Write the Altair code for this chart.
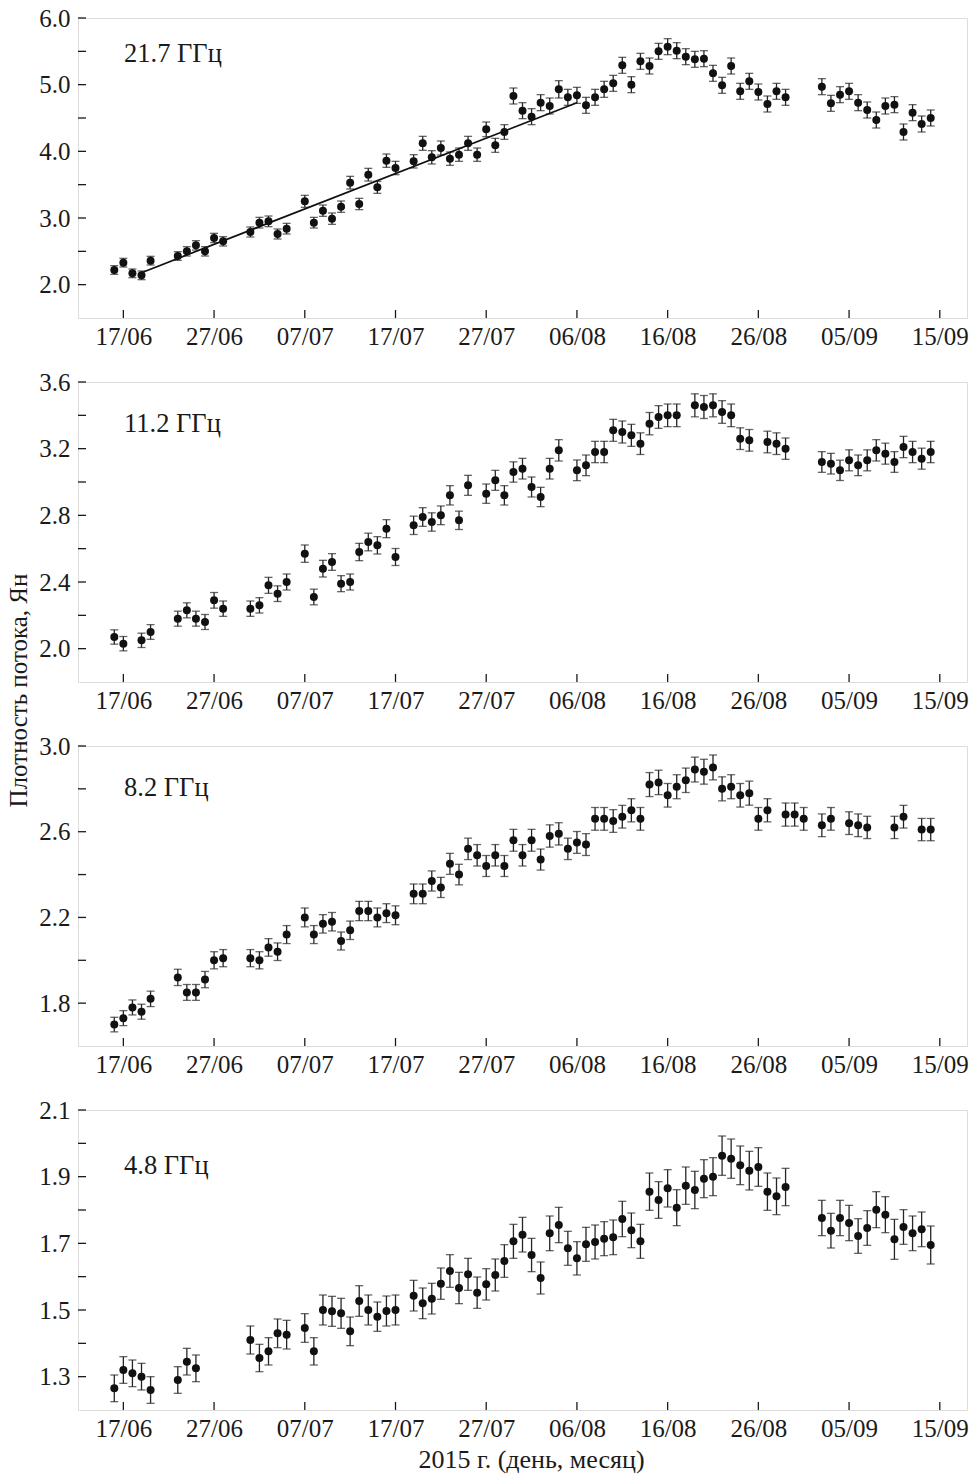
import altair as alt
import pandas as pd

FONT = "Liberation Serif"
INK = "#1a1a1a"
BASE = pd.Timestamp("2015-06-17")

# x tick positions (days after 17/06/2015)
tick_days = [0, 10, 20, 30, 40, 50, 60, 70, 80, 90]

# ---------------- 21.7 GHz ----------------
days_217 = [-1, 0, 1, 2, 3, 6, 7, 8, 9, 10, 11, 14, 15, 16, 17, 18,
            20, 21, 22, 23, 24, 25, 26, 27, 28, 29, 30,
            32, 33, 34, 35, 36, 37, 38, 39, 40, 41, 42, 43,
            44, 45, 46, 47, 48, 49, 50, 51, 52, 53,
            54, 55, 56, 57, 58, 59, 60, 61, 62, 63,
            64, 65, 66, 67, 68, 69, 70, 71, 72, 73,
            77, 78, 79, 80, 81, 82, 83, 84, 85, 86, 87, 88, 89]
flux_217 = [2.22, 2.33, 2.17, 2.14, 2.36, 2.43, 2.50, 2.59, 2.50, 2.70, 2.65,
            2.79, 2.93, 2.95, 2.76, 2.84,
            3.25, 2.93, 3.11, 2.99, 3.17, 3.53, 3.21, 3.65, 3.46, 3.86, 3.75,
            3.85, 4.12, 3.91, 4.05, 3.89, 3.95, 4.12, 3.95, 4.33, 4.09, 4.29, 4.83,
            4.61, 4.52, 4.73, 4.68, 4.93, 4.81, 4.84, 4.69, 4.81, 4.93,
            5.02, 5.29, 5.00, 5.35, 5.28, 5.50, 5.57, 5.51, 5.42, 5.38,
            5.39, 5.17, 4.99, 5.28, 4.90, 5.05, 4.89, 4.71, 4.90, 4.81,
            4.97, 4.72, 4.85, 4.90, 4.73, 4.62, 4.47, 4.68, 4.70, 4.29, 4.58, 4.41, 4.50]
err_217 = [0.065, 0.065, 0.065, 0.065, 0.065, 0.065, 0.07, 0.07, 0.07, 0.07, 0.07,
           0.075, 0.08, 0.08, 0.075, 0.08,
           0.09, 0.08, 0.085, 0.085, 0.085, 0.095, 0.085, 0.095, 0.09, 0.10, 0.10,
           0.10, 0.105, 0.10, 0.105, 0.10, 0.10, 0.105, 0.10, 0.11, 0.105, 0.11, 0.12,
           0.12, 0.12, 0.12, 0.12, 0.13, 0.12, 0.12, 0.12, 0.12, 0.12,
           0.12, 0.12, 0.12, 0.12, 0.12, 0.12, 0.12, 0.12, 0.12, 0.12,
           0.12, 0.12, 0.12, 0.12, 0.12, 0.12, 0.12, 0.12, 0.12, 0.12,
           0.12, 0.12, 0.12, 0.12, 0.12, 0.12, 0.12, 0.12, 0.12, 0.12, 0.12, 0.12, 0.12]
fit_days_217 = [2, 50]
fit_flux_217 = [2.18, 4.73]

# ---------------- 11.2 GHz ----------------
days_112 = [-1, 0, 2, 3, 6, 7, 8, 9, 10, 11, 14, 15, 16, 17, 18,
            20, 21, 22, 23, 24, 25, 26, 27, 28, 29, 30,
            32, 33, 34, 35, 36, 37, 38, 40, 41, 42, 43, 44, 45, 46, 47, 48,
            50, 51, 52, 53, 54, 55, 56, 57, 58, 59, 60, 61,
            63, 64, 65, 66, 67, 68, 69, 71, 72, 73,
            77, 78, 79, 80, 81, 82, 83, 84, 85, 86, 87, 88, 89]
flux_112 = [2.07, 2.03, 2.05, 2.10, 2.18, 2.23, 2.18, 2.16, 2.29, 2.24,
            2.24, 2.26, 2.38, 2.33, 2.40,
            2.57, 2.31, 2.48, 2.52, 2.39, 2.40, 2.58, 2.64, 2.62, 2.72, 2.55,
            2.74, 2.79, 2.76, 2.80, 2.92, 2.77, 2.98,
            2.93, 3.01, 2.92, 3.06, 3.08, 2.97, 2.91, 3.08, 3.19,
            3.07, 3.10, 3.18, 3.18, 3.31, 3.30, 3.28, 3.23, 3.35, 3.39, 3.40, 3.40,
            3.46, 3.45, 3.46, 3.42, 3.40, 3.26, 3.25, 3.24, 3.23, 3.20,
            3.12, 3.11, 3.07, 3.13, 3.10, 3.13, 3.19, 3.17, 3.12, 3.21, 3.18, 3.14, 3.18]
err_112 = [0.043, 0.043, 0.043, 0.044, 0.045, 0.045, 0.045, 0.045, 0.047, 0.046,
           0.046, 0.046, 0.048, 0.047, 0.048,
           0.052, 0.047, 0.050, 0.050, 0.048, 0.048, 0.052, 0.053, 0.052, 0.054, 0.051,
           0.055, 0.056, 0.055, 0.056, 0.058, 0.055, 0.060,
           0.058, 0.060, 0.058, 0.061, 0.062, 0.060, 0.058, 0.062, 0.064,
           0.062, 0.062, 0.064, 0.064, 0.066, 0.066, 0.066, 0.065, 0.067, 0.068, 0.068, 0.068,
           0.069, 0.069, 0.069, 0.068, 0.068, 0.065, 0.065, 0.065, 0.065, 0.064,
           0.062, 0.062, 0.061, 0.063, 0.062, 0.063, 0.064, 0.063, 0.062, 0.064, 0.064, 0.063, 0.064]

# ---------------- 8.2 GHz ----------------
days_82 = [-1, 0, 1, 2, 3, 6, 7, 8, 9, 10, 11, 14, 15, 16, 17, 18,
           20, 21, 22, 23, 24, 25, 26, 27, 28, 29, 30,
           32, 33, 34, 35, 36, 37, 38, 39, 40, 41,
           42, 43, 44, 45, 46, 47, 48, 49, 50, 51,
           52, 53, 54, 55, 56, 57, 58, 59, 60, 61,
           62, 63, 64, 65, 66, 67, 68, 69, 70, 71,
           73, 74, 75, 77, 78, 80, 81, 82, 85, 86, 88, 89]
flux_82 = [1.70, 1.73, 1.78, 1.76, 1.82, 1.92, 1.85, 1.85, 1.91, 2.00, 2.01,
           2.01, 2.00, 2.06, 2.04, 2.12,
           2.20, 2.12, 2.17, 2.18, 2.09, 2.14, 2.23, 2.23, 2.20, 2.22, 2.21,
           2.31, 2.31, 2.37, 2.34, 2.45, 2.40, 2.52, 2.49, 2.44, 2.49,
           2.44, 2.56, 2.49, 2.56, 2.47, 2.58, 2.59, 2.52, 2.55, 2.54,
           2.66, 2.66, 2.65, 2.67, 2.70, 2.66, 2.82, 2.83, 2.77, 2.81,
           2.84, 2.89, 2.88, 2.90, 2.80, 2.81, 2.77, 2.78, 2.66, 2.70,
           2.68, 2.68, 2.66, 2.63, 2.66, 2.64, 2.63, 2.62, 2.62, 2.67, 2.61, 2.61]
err_82 = [0.034, 0.035, 0.035, 0.035, 0.036, 0.038, 0.037, 0.037, 0.038, 0.040, 0.040,
          0.040, 0.040, 0.041, 0.041, 0.042,
          0.044, 0.042, 0.043, 0.043, 0.042, 0.043, 0.045, 0.045, 0.044, 0.044, 0.044,
          0.046, 0.046, 0.047, 0.047, 0.049, 0.048, 0.050, 0.050, 0.049, 0.050,
          0.049, 0.051, 0.050, 0.051, 0.049, 0.052, 0.052, 0.050, 0.051, 0.051,
          0.053, 0.053, 0.053, 0.053, 0.054, 0.053, 0.056, 0.057, 0.055, 0.056,
          0.057, 0.058, 0.058, 0.058, 0.056, 0.056, 0.055, 0.056, 0.053, 0.054,
          0.054, 0.054, 0.053, 0.053, 0.053, 0.053, 0.053, 0.052, 0.052, 0.053, 0.052, 0.052]

# ---------------- 4.8 GHz ----------------
days_48 = [-1, 0, 1, 2, 3, 6, 7, 8, 14, 15, 16, 17, 18,
           20, 21, 22, 23, 24, 25, 26, 27, 28, 29, 30,
           32, 33, 34, 35, 36, 37, 38, 39, 40, 41, 42, 43,
           44, 45, 46, 47, 48, 49, 50, 51, 52, 53,
           54, 55, 56, 57, 58, 59, 60, 61, 62, 63,
           64, 65, 66, 67, 68, 69, 70, 71, 72, 73,
           77, 78, 79, 80, 81, 82, 83, 84, 85, 86, 87, 88, 89]
flux_48 = [1.265, 1.32, 1.31, 1.30, 1.26, 1.29, 1.345, 1.325,
           1.41, 1.356, 1.376, 1.43, 1.426,
           1.446, 1.376, 1.50, 1.496, 1.49, 1.436, 1.527, 1.50, 1.48, 1.497, 1.50,
           1.543, 1.52, 1.534, 1.579, 1.617, 1.566, 1.607, 1.552, 1.577, 1.605, 1.647, 1.706,
           1.726, 1.665, 1.596, 1.73, 1.755, 1.685, 1.655, 1.697, 1.704, 1.714,
           1.718, 1.773, 1.739, 1.706, 1.855, 1.83, 1.865, 1.807, 1.873, 1.86,
           1.894, 1.90, 1.963, 1.954, 1.934, 1.918, 1.929, 1.855, 1.841, 1.869,
           1.776, 1.738, 1.776, 1.761, 1.722, 1.746, 1.801, 1.786, 1.712, 1.749, 1.73, 1.742, 1.695]
err_48 = [0.040, 0.040, 0.040, 0.040, 0.040, 0.040, 0.040, 0.040,
          0.042, 0.041, 0.041, 0.043, 0.043,
          0.043, 0.041, 0.045, 0.045, 0.045, 0.043, 0.046, 0.045, 0.044, 0.045, 0.045,
          0.046, 0.046, 0.046, 0.047, 0.049, 0.047, 0.048, 0.047, 0.047, 0.048, 0.049, 0.051,
          0.052, 0.050, 0.048, 0.052, 0.053, 0.051, 0.050, 0.051, 0.051, 0.051,
          0.052, 0.053, 0.052, 0.051, 0.056, 0.055, 0.056, 0.054, 0.056, 0.056,
          0.057, 0.057, 0.059, 0.059, 0.058, 0.058, 0.058, 0.056, 0.055, 0.056,
          0.053, 0.052, 0.053, 0.053, 0.052, 0.052, 0.054, 0.054, 0.060, 0.052, 0.052, 0.052, 0.057]


def to_dates(days):
    return [(BASE + pd.Timedelta(days=d)).strftime("%Y-%m-%dT%H:%M:%SZ") for d in days]


def dt(ts):
    return alt.DateTime(year=ts.year, month=ts.month, date=ts.day, utc=True)


W, H = 889, 300
x_scale = alt.Scale(type="utc",
                    domain=[dt(BASE - pd.Timedelta(days=5)), dt(BASE + pd.Timedelta(days=93))])
x_tick_values = [dt(BASE + pd.Timedelta(days=d)) for d in tick_days]


def panel(days, flux, err, ydom, major, minor, label, label_y,
          fit=None, ytitle=None, xtitle=None):
    df = pd.DataFrame({
        "date": to_dates(days),
        "flux": flux,
        "lo": [f - e for f, e in zip(flux, err)],
        "hi": [f + e for f, e in zip(flux, err)],
    })
    y_scale = alt.Scale(domain=ydom, nice=False, zero=False)

    ykw = dict(values=major, format=".1f", ticks=False, domain=False, grid=False,
               labelFont=FONT, labelFontSize=25, labelColor=INK, labelPadding=8)
    if ytitle:
        ykw.update(title=ytitle, titleFont=FONT, titleFontSize=25, titleFontWeight="normal",
                   titleColor=INK, titleX=-60, titleY=308, titleAngle=270,
                   titleAlign="center", titleBaseline="middle")
    else:
        ykw.update(title=None)
    y_axis = alt.Axis(**ykw)

    xkw = dict(values=x_tick_values, format="%d/%m", ticks=False, domain=False, grid=False,
               labelFont=FONT, labelFontSize=25, labelColor=INK, labelPadding=6,
               labelOverlap=False)
    if xtitle:
        xkw.update(title=xtitle, titleFont=FONT, titleFontSize=26, titleFontWeight="normal",
                   titleColor=INK, titlePadding=5, titleX=453)
    else:
        xkw.update(title=None)
    x_axis = alt.Axis(**xkw)

    X = alt.X("date:T", scale=x_scale, axis=x_axis)
    base = alt.Chart(df)

    bars = base.mark_rule(color="#262626", strokeWidth=1.3).encode(
        x=X, y=alt.Y("lo:Q", scale=y_scale, axis=y_axis), y2="hi:Q")
    cap_lo = base.mark_tick(orient="horizontal", size=8, thickness=1.3, color="#262626").encode(
        x=X, y=alt.Y("lo:Q", scale=y_scale, axis=y_axis))
    cap_hi = base.mark_tick(orient="horizontal", size=8, thickness=1.3, color="#262626").encode(
        x=X, y=alt.Y("hi:Q", scale=y_scale, axis=y_axis))
    pts = base.mark_circle(size=64, color="#111111", opacity=1).encode(
        x=X, y=alt.Y("flux:Q", scale=y_scale, axis=y_axis))

    ytk = alt.Chart(pd.DataFrame({"v": major + minor})).mark_rule(
        color=INK, strokeWidth=1.3).encode(
        y=alt.Y("v:Q", scale=y_scale, axis=y_axis), x=alt.value(0), x2=alt.value(8))
    xtk = alt.Chart(pd.DataFrame({"date": to_dates(tick_days)})).mark_rule(
        color=INK, strokeWidth=1.3).encode(
        x=X, y=alt.value(H), y2=alt.value(H - 8))
    txt = alt.Chart(pd.DataFrame({"t": [label]})).mark_text(
        align="left", baseline="middle", font=FONT, fontSize=26.5, color=INK).encode(
        text="t:N", x=alt.value(46), y=alt.value(label_y))

    layers = [bars, cap_lo, cap_hi, pts, ytk, xtk, txt]
    if fit is not None:
        fdf = pd.DataFrame({"date": to_dates(fit[0]), "flux": fit[1]})
        layers.append(alt.Chart(fdf).mark_line(color="#111111", strokeWidth=1.7).encode(
            x=X, y=alt.Y("flux:Q", scale=y_scale, axis=y_axis)))
    return alt.layer(*layers).properties(width=W, height=H)


p1 = panel(days_217, flux_217, err_217, [1.5, 6.0],
           [2.0, 3.0, 4.0, 5.0, 6.0], [2.5, 3.5, 4.5, 5.5],
           "21.7 ГГц", 36, fit=(fit_days_217, fit_flux_217))
p2 = panel(days_112, flux_112, err_112, [1.8, 3.6],
           [2.0, 2.4, 2.8, 3.2, 3.6], [2.2, 2.6, 3.0, 3.4],
           "11.2 ГГц", 42, ytitle="Плотность потока, Ян")
p3 = panel(days_82, flux_82, err_82, [1.6, 3.0],
           [1.8, 2.2, 2.6, 3.0], [2.0, 2.4, 2.8],
           "8.2 ГГц", 42)
p4 = panel(days_48, flux_48, err_48, [1.2, 2.1],
           [1.3, 1.5, 1.7, 1.9, 2.1], [1.4, 1.6, 1.8, 2.0],
           "4.8 ГГц", 56, xtitle="2015 г. (день, месяц)")

chart = alt.vconcat(p1, p2, p3, p4, spacing=64, bounds="flush").configure_view(
    stroke=INK, strokeWidth=1.4
).configure(font=FONT, background="white")

chart.save("out.html", embed_options={"renderer": "svg", "actions": False})
